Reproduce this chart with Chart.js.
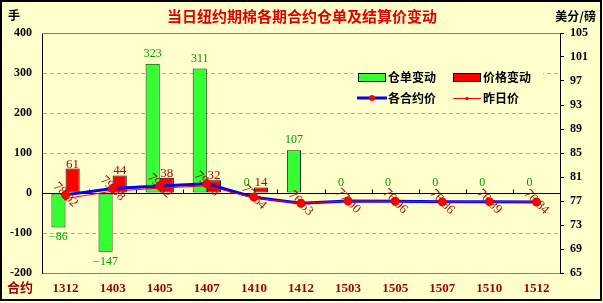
<!DOCTYPE html>
<html>
<head>
<meta charset="utf-8">
<script src="https://cdn.jsdelivr.net/npm/chart.js@4.4.0/dist/chart.umd.min.js"></script>
<style>
  html, body { margin: 0; padding: 0; background: #FFFFCC; }
  canvas { display: block; }
</style>
</head>
<body>
<canvas id="chart" width="603" height="303"></canvas>
<script>
// contracts and values
const contracts = ['1312', '1403', '1405', '1407', '1410', '1412', '1503', '1505', '1507', '1510', '1512'];
const warrantChange = [-86, -147, 323, 311, 0, 107, 0, 0, 0, 0, 0];
const priceChange = [61, 44, 38, 32, 14, 0, 0, 0, 0, 0, 0];
const settlePrice = [78.02, 79.08, 79.52, 79.86, 77.64, 76.63, 77.00, 76.96, 76.86, 76.89, 76.84];
const prevPrice = [77.41, 78.64, 79.14, 79.54, 77.50, 76.63, 77.00, 76.96, 76.86, 76.89, 76.84];
const leftTicks = [-200, -100, 0, 100, 200, 300, 400];
const rightTicks = [65, 69, 73, 77, 81, 85, 89, 93, 97, 101, 105];

const BG = '#FFFFCC';
const SERIF = '"Liberation Serif", "Times New Roman", serif';
const CJK = '"Noto Sans CJK SC", sans-serif';

const decorPlugin = {
    id: 'decor',
    beforeDraw(chart) {
        const ctx = chart.ctx;
        ctx.save();
        ctx.fillStyle = BG;
        ctx.fillRect(0, 0, chart.width, chart.height);
        ctx.restore();
    },
    beforeDatasetsDraw(chart) {
        const { ctx, chartArea: a, scales: { x, y } } = chart;
        const y0 = Math.round(y.getPixelForValue(0)) + 0.5;
        ctx.save();
        ctx.strokeStyle = '#000';
        ctx.lineWidth = 1;
        ctx.beginPath();
        ctx.moveTo(a.left, y0);
        ctx.lineTo(a.right, y0);
        for (let i = 1; i < contracts.length; i++) {
            const px = Math.round((x.getPixelForValue(i - 1) + x.getPixelForValue(i)) / 2) + 0.5;
            ctx.moveTo(px, y0);
            ctx.lineTo(px, y0 - 4);
        }
        ctx.stroke();
        // top edge of plot
        ctx.strokeStyle = '#808080';
        ctx.beginPath();
        ctx.moveTo(a.left, a.top + 0.5);
        ctx.lineTo(a.right, a.top + 0.5);
        ctx.stroke();
        ctx.restore();
    },
    afterDatasetsDraw(chart) {
        const ctx = chart.ctx;
        ctx.save();
        ctx.textAlign = 'center';
        ctx.textBaseline = 'alphabetic';

        // warrant change labels (all values)
        ctx.font = '12px ' + SERIF;
        ctx.fillStyle = '#009A00';
        chart.getDatasetMeta(0).data.forEach((bar, i) => {
            const v = warrantChange[i];
            ctx.fillText(v < 0 ? '\u2212' + Math.abs(v) : String(v), bar.x, v < 0 ? bar.y + 13 : bar.y - 7);
        });

        // price change labels (non-zero only)
        ctx.font = '13px ' + SERIF;
        ctx.fillStyle = '#B00000';
        chart.getDatasetMeta(1).data.forEach((bar, i) => {
            const v = priceChange[i];
            if (v !== 0) ctx.fillText(String(v), bar.x, bar.y - 1);
        });

        // settle price labels, rotated
        ctx.font = '13px ' + SERIF;
        ctx.fillStyle = '#A01010';
        ctx.textBaseline = 'middle';
        const pts = chart.getDatasetMeta(2).data;
        pts.forEach((pt, i) => {
            ctx.save();
            ctx.translate(pt.x, pt.y);
            ctx.rotate(Math.PI / 4);
            ctx.fillText(settlePrice[i].toFixed(2), 0, 0);
            ctx.restore();
        });
        // markers back on top of the labels
        ctx.fillStyle = '#FF0000';
        pts.forEach(pt => {
            ctx.beginPath();
            ctx.arc(pt.x, pt.y, 3, 0, Math.PI * 2);
            ctx.fill();
        });
        ctx.restore();
    },
    afterDraw(chart) {
        const ctx = chart.ctx;
        ctx.save();

        // legend box
        ctx.fillStyle = BG;
        ctx.fillRect(353, 64, 190, 44);
        ctx.lineWidth = 1;
        ctx.fillStyle = '#33FF33';
        ctx.fillRect(358.5, 73.5, 27, 8);
        ctx.strokeStyle = '#000';
        ctx.strokeRect(358.5, 73.5, 27, 8);
        ctx.fillStyle = '#FF0000';
        ctx.fillRect(453.5, 73.5, 27, 8);
        ctx.strokeRect(453.5, 73.5, 27, 8);

        ctx.strokeStyle = '#0000FF';
        ctx.lineWidth = 3;
        ctx.beginPath(); ctx.moveTo(357, 98); ctx.lineTo(387, 98); ctx.stroke();
        ctx.fillStyle = '#FF0000';
        ctx.beginPath(); ctx.arc(372, 98, 3, 0, Math.PI * 2); ctx.fill();
        ctx.strokeStyle = '#FF0000';
        ctx.lineWidth = 1;
        ctx.beginPath(); ctx.moveTo(453, 98.5); ctx.lineTo(481, 98.5); ctx.stroke();
        ctx.beginPath(); ctx.arc(467, 98.5, 1.8, 0, Math.PI * 2); ctx.fill();

        ctx.fillStyle = '#000';
        ctx.font = 'bold 12px ' + CJK;
        ctx.textAlign = 'left';
        ctx.textBaseline = 'middle';
        ctx.fillText('仓单变动', 388, 77);
        ctx.fillText('价格变动', 483, 77);
        ctx.fillText('各合约价', 388, 98);
        ctx.fillText('昨日价', 483, 98);

        // title and unit texts
        ctx.fillStyle = '#E00000';
        ctx.font = 'bold 15px ' + CJK;
        ctx.textAlign = 'center';
        ctx.fillText('当日纽约期棉各期合约仓单及结算价变动', 302, 16);
        ctx.fillStyle = '#000';
        ctx.font = 'bold 12px ' + CJK;
        ctx.textAlign = 'left';
        ctx.fillText('手', 8, 15);
        ctx.textAlign = 'right';
        ctx.fillText('美分/磅', 596, 16);
        ctx.fillStyle = '#990000';
        ctx.font = 'bold 13px ' + CJK;
        ctx.textAlign = 'left';
        ctx.fillText('合约', 7, 287);

        // outer frame
        ctx.strokeStyle = '#000';
        ctx.lineWidth = 2;
        ctx.strokeRect(1, 1, 600, 299);
        ctx.restore();
    }
};

const ctx = document.getElementById('chart').getContext('2d');
new Chart(ctx, {
    type: 'bar',
    data: {
        labels: contracts,
        datasets: [
            {
                label: '仓单变动',
                data: warrantChange,
                yAxisID: 'y',
                backgroundColor: '#33FF33',
                borderColor: '#003300',
                borderWidth: 1,
                borderSkipped: false,
                categoryPercentage: 0.6,
                barPercentage: 1.0,
                order: 2
            },
            {
                label: '价格变动',
                data: priceChange,
                yAxisID: 'y',
                backgroundColor: '#FF0000',
                borderColor: '#000000',
                borderWidth: 1,
                borderSkipped: false,
                categoryPercentage: 0.6,
                barPercentage: 1.0,
                order: 3
            },
            {
                type: 'line',
                label: '各合约价',
                data: settlePrice,
                yAxisID: 'y1',
                borderColor: '#0000FF',
                borderWidth: 3,
                pointRadius: 3,
                pointBackgroundColor: '#FF0000',
                pointBorderColor: '#FF0000',
                tension: 0,
                order: 1
            },
            {
                type: 'line',
                label: '昨日价',
                data: prevPrice,
                yAxisID: 'y1',
                borderColor: '#FF0000',
                borderWidth: 1,
                pointRadius: 1.5,
                pointBackgroundColor: '#FF0000',
                pointBorderColor: '#FF0000',
                tension: 0,
                order: 0
            }
        ]
    },
    options: {
        responsive: false,
        animation: false,
        events: [],
        layout: { padding: { top: 33, left: 0, right: 0, bottom: 0 } },
        plugins: {
            legend: { display: false },
            title: { display: false },
            tooltip: { enabled: false }
        },
        scales: {
            x: {
                grid: { display: false },
                border: { display: true, color: '#808080' },
                ticks: {
                    color: '#990000',
                    font: { family: SERIF, size: 13, weight: 'bold' },
                    padding: 0,
                    maxRotation: 0
                },
                afterFit: s => { s.height = 30; }
            },
            y: {
                position: 'left',
                min: leftTicks[0],
                max: leftTicks[leftTicks.length - 1],
                afterBuildTicks: s => { s.ticks = leftTicks.map(v => ({ value: v })); },
                grid: {
                    drawTicks: false,
                    color: c => (c.tick && [100, 200, 300, -100].includes(c.tick.value)) ? '#A8A8A8' : 'rgba(0,0,0,0)'
                },
                border: { display: true, color: '#000', width: 1, dash: [4, 3] },
                ticks: {
                    color: '#000',
                    font: { family: SERIF, size: 12, weight: 'bold' },
                    padding: 10
                },
                afterFit: s => { s.width = 42; }
            },
            y1: {
                position: 'right',
                min: rightTicks[0],
                max: rightTicks[rightTicks.length - 1],
                afterBuildTicks: s => { s.ticks = rightTicks.map(v => ({ value: v })); },
                grid: { drawOnChartArea: false, drawTicks: true, tickLength: 4, color: '#000' },
                border: { display: true, color: '#000', width: 1 },
                ticks: {
                    color: '#000',
                    font: { family: SERIF, size: 12, weight: 'bold' },
                    padding: 6
                },
                afterFit: s => { s.width = 43; }
            }
        }
    },
    plugins: [decorPlugin]
});
</script>
</body>
</html>
